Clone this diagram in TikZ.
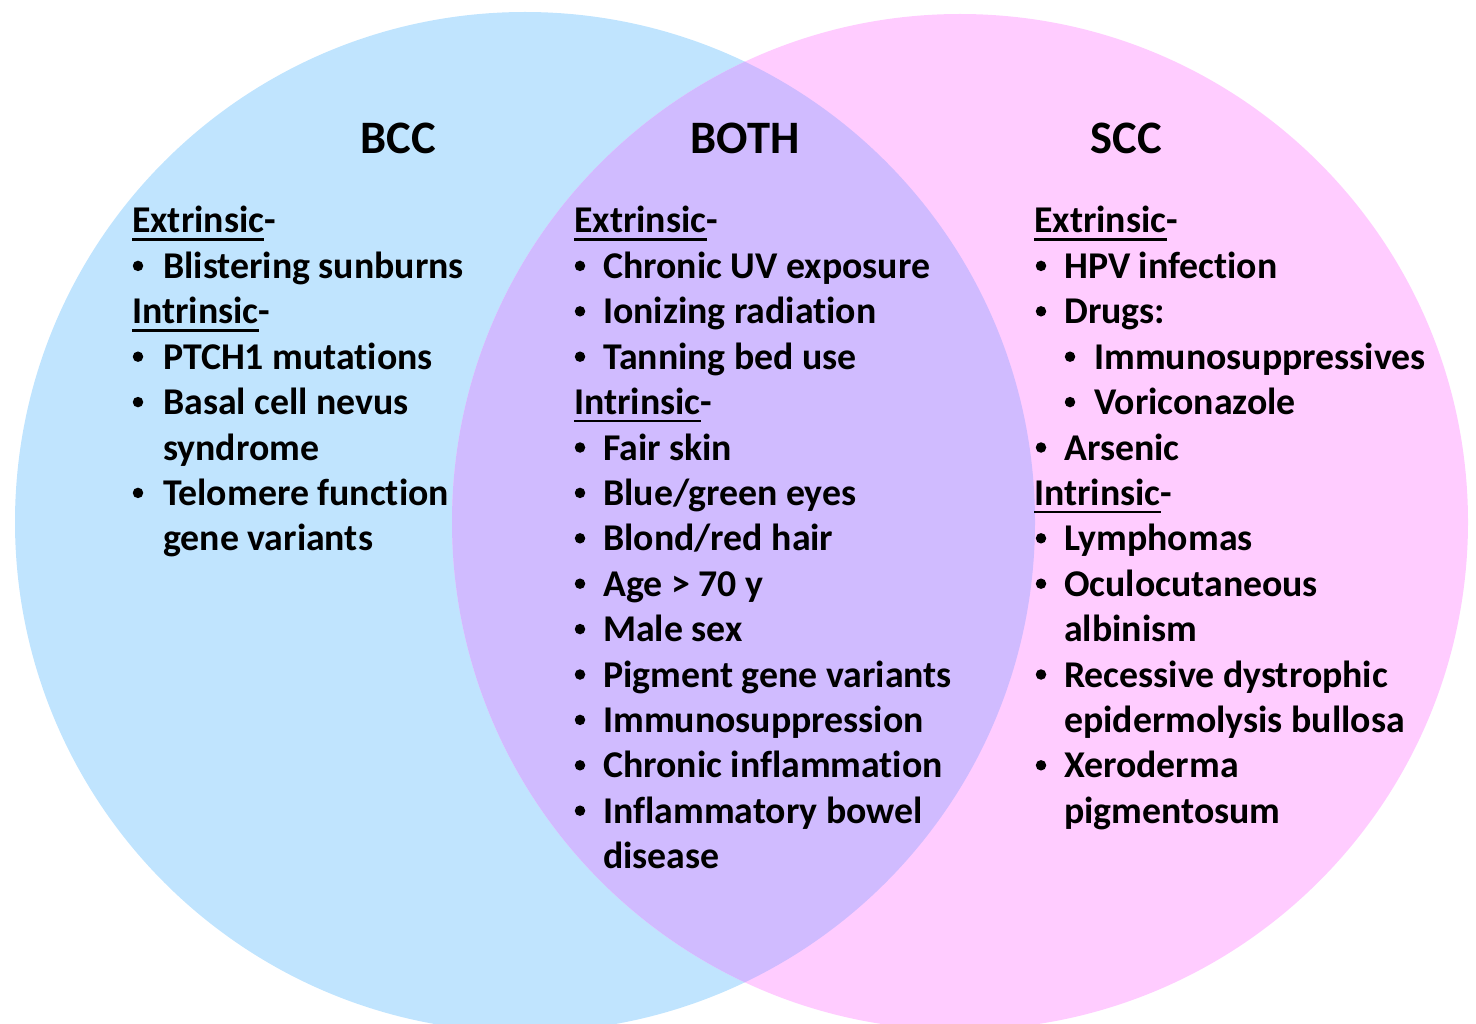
\documentclass[tikz,border=0pt]{standalone}
\usepackage{fontspec}
\setmainfont{Carlito}[Ligatures=NoCommon]
\definecolor{bccblue}{RGB}{192,228,254}
\definecolor{sccpink}{RGB}{255,204,255}
\definecolor{bothpurple}{RGB}{208,187,255}
\newcommand\itm[5]{%
  \node[dot] (#1b) at (#2,{233+45.4*#4-12.5}) {};
  \node[txt,anchor=base west] (#1) at (#3,{233+45.4*#4}) {#5};}
\newcommand\cont[4]{%
  \node[txt,anchor=base west] (#1) at (#2,{233+45.4*#3}) {#4};}
\newcommand\hd[4]{%
  \node[txt,anchor=base west] (#1) at (#2,{233+45.4*#3}) {#4};
  \node[txt,anchor=base west] (#1d) at (#1.base east) {-};
  \draw[uline] ([yshift=-6.5pt]#1.base west) -- ([yshift=-6.5pt]#1.base east);}
\begin{document}
\begin{tikzpicture}[x=1pt,y=-1pt,
  txt/.style={inner sep=0pt,font=\fontsize{37.8}{45}\selectfont\bfseries},
  ttl/.style={inner sep=0pt,anchor=base,font=\fontsize{46.5}{55}\selectfont\bfseries},
  dot/.style={circle,fill=black,inner sep=0pt,minimum size=10.5pt},
  uline/.style={line width=2.6pt}]
\useasboundingbox (0,0) rectangle (1476,1024);
\begin{scope}
\clip (0,0) rectangle (1476,1024);
\fill[bccblue] (525,522) circle[radius=510];
\fill[sccpink] (960,522) circle[radius=508];
\begin{scope}
\clip (525,522) circle[radius=510];
\fill[bothpurple] (960,522) circle[radius=508];
\end{scope}
\end{scope}
% titles
\node[ttl] (tbcc) at (398,154) {BCC};
\node[ttl] (tboth) at (745,154) {BOTH};
\node[ttl] (tscc) at (1126,154) {SCC};
% BCC column
\hd{lh1}{132}{0}{Extrinsic}
\itm{l1}{138}{163}{1}{Blistering sunburns}
\hd{lh2}{132}{2}{Intrinsic}
\itm{l2}{138}{163}{3}{PTCH1 mutations}
\itm{l3}{138}{163}{4}{Basal cell nevus}
\cont{l3c}{163}{5}{syndrome}
\itm{l4}{138}{163}{6}{Telomere function}
\cont{l4c}{163}{7}{gene variants}
% BOTH column
\hd{mh1}{574}{0}{Extrinsic}
\itm{m1}{580}{603}{1}{Chronic UV exposure}
\itm{m2}{580}{603}{2}{Ionizing radiation}
\itm{m3}{580}{603}{3}{Tanning bed use}
\hd{mh2}{574}{4}{Intrinsic}
\itm{m4}{580}{603}{5}{Fair skin}
\itm{m5}{580}{603}{6}{Blue/green eyes}
\itm{m6}{580}{603}{7}{Blond/red hair}
\itm{m7}{580}{603}{8}{Age > 70 y}
\itm{m8}{580}{603}{9}{Male sex}
\itm{m9}{580}{603}{10}{Pigment gene variants}
\itm{m10}{580}{603}{11}{Immunosuppression}
\itm{m11}{580}{603}{12}{Chronic inflammation}
\itm{m12}{580}{603}{13}{Inflammatory bowel}
\cont{m12c}{603}{14}{disease}
% SCC column
\hd{rh1}{1034}{0}{Extrinsic}
\itm{r1}{1041}{1064}{1}{HPV infection}
\itm{r2}{1041}{1064}{2}{Drugs:}
\itm{r3}{1070}{1094}{3}{Immunosuppressives}
\itm{r4}{1070}{1094}{4}{Voriconazole}
\itm{r5}{1041}{1064}{5}{Arsenic}
\hd{rh2}{1034}{6}{Intrinsic}
\itm{r6}{1041}{1064}{7}{Lymphomas}
\itm{r7}{1041}{1064}{8}{Oculocutaneous}
\cont{r7c}{1064}{9}{albinism}
\itm{r8}{1041}{1064}{10}{Recessive dystrophic}
\cont{r8c}{1064}{11}{epidermolysis bullosa}
\itm{r9}{1041}{1064}{12}{Xeroderma}
\cont{r9c}{1064}{13}{pigmentosum}
\end{tikzpicture}
\end{document}
